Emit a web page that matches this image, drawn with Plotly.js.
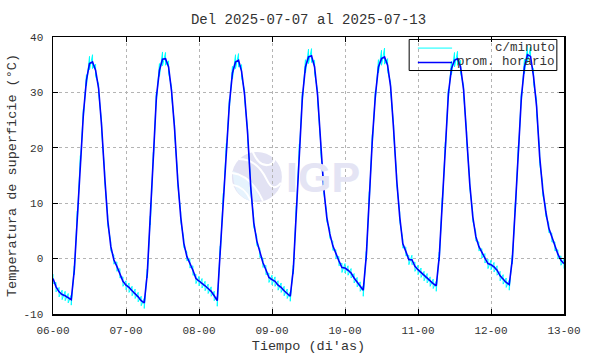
<!DOCTYPE html>
<html><head><meta charset="utf-8">
<script src="https://cdn.plot.ly/plotly-3.0.1.min.js"></script>
<style>html,body{margin:0;padding:0;background:#fff}#chart{width:590px;height:354px}</style>
</head><body><div id="chart"></div>
<script>
// Days shown (hourly points, 00..23 each day)
const days = ['2025-07-06','2025-07-07','2025-07-08','2025-07-09','2025-07-10','2025-07-11','2025-07-12'];
const endTime = '2025-07-13 00:00';

// Hourly mean surface temperature (°C), "prom. horario"
const mean06 = [-3.6,-5.1,-6.0,-6.5,-6.7,-7.1,-7.4,-2.1,7.8,17.8,26.2,32.2,35.2,35.5,34.0,30.7,23.8,14.8,6.9,2.2,-0.2,-1.4,-2.6,-4.1];
const mean07 = [-4.8,-5.2,-5.8,-6.3,-6.9,-7.6,-8.0,-2.7,6.9,18.4,29.2,34.0,36.0,36.1,34.6,30.1,23.2,14.2,7.5,2.8,0.4,-0.8,-2.1,-3.6];
const mean08 = [-4.0,-4.4,-4.9,-5.4,-5.9,-6.7,-7.6,1.5,11.0,20.0,28.0,33.5,35.5,35.8,33.8,29.5,22.5,13.0,6.5,3.2,1.0,-0.7,-2.0,-3.4];
const mean09 = [-3.8,-4.1,-4.8,-5.2,-5.8,-6.3,-6.8,-2.0,8.8,19.9,29.2,34.6,36.4,36.6,34.6,29.4,20.1,12.7,7.5,4.5,2.3,0.8,-0.4,-1.6];
const mean10 = [-1.7,-2.1,-2.6,-3.5,-4.2,-5.0,-5.7,0.5,11.3,21.6,29.5,34.6,36.1,36.4,34.9,31.0,23.2,14.2,7.5,2.7,1.3,-0.2,-0.2,-1.4];
const mean11 = [-2.0,-2.5,-3.1,-3.5,-4.1,-4.5,-4.9,0.4,10.2,20.2,29.8,34.3,35.8,36.1,34.6,30.4,22.0,13.6,7.6,4.0,2.2,1.0,0.1,-0.9];
const mean12 = [-1.1,-1.5,-2.1,-3.1,-3.7,-4.3,-4.7,-0.2,9.3,19.6,29.2,34.6,36.8,36.5,32.8,27.4,18.4,12.5,8.5,5.5,3.8,2.2,0.8,-0.3];
const meanEnd = -0.9;

// Per-minute readings "c/minuto": highest and lowest reading seen in each hour (°C)
const hi06 = [-2.8,-4.3,-5.2,-5.7,-5.9,-6.3,-6.6,-1.3,8.6,18.6,27.0,33.2,36.5,36.8,35.1,31.5,24.6,15.6,7.7,3.0,0.6,-0.6,-1.8,-3.3];
const lo06 = [-4.5,-6.0,-6.9,-7.4,-7.6,-8.0,-8.4,-2.9,7.0,17.0,25.4,31.2,34.1,34.3,32.9,29.9,23.0,14.0,6.1,1.4,-1.0,-2.3,-3.5,-5.0];
const hi07 = [-4.0,-4.4,-5.0,-5.5,-6.1,-6.8,-7.2,-1.9,7.7,19.2,30.0,35.2,37.3,37.2,35.7,30.9,24.0,15.0,8.3,3.6,1.2,0.0,-1.3,-2.8];
const lo07 = [-5.6,-6.1,-6.7,-7.2,-7.8,-8.5,-9.0,-3.5,6.1,17.6,28.4,32.9,34.8,34.9,33.5,29.3,22.4,13.4,6.7,2.0,-0.4,-1.7,-3.0,-4.5];
const hi08 = [-3.2,-3.6,-4.1,-4.6,-5.1,-5.9,-6.8,2.3,11.8,20.8,28.8,34.7,36.8,37.0,35.0,30.3,23.3,13.8,7.3,4.0,1.8,0.1,-1.2,-2.6];
const lo08 = [-4.9,-5.3,-5.8,-6.3,-6.8,-7.6,-8.6,0.7,10.2,19.2,27.2,32.4,34.3,34.6,32.7,28.7,21.7,12.2,5.7,2.4,0.2,-1.6,-2.9,-4.3];
const hi09 = [-3.0,-3.3,-4.0,-4.4,-5.0,-5.5,-6.0,-1.2,9.6,20.7,30.0,35.9,37.8,37.9,35.8,30.2,20.9,13.5,8.3,5.3,3.1,1.6,0.4,-0.8];
const lo09 = [-4.7,-5.0,-5.7,-6.1,-6.7,-7.2,-7.7,-2.8,8.0,19.1,28.4,33.5,35.2,35.4,33.5,28.6,19.3,11.9,6.7,3.7,1.5,0.0,-1.3,-2.5];
const hi10 = [-0.9,-1.3,-1.8,-2.7,-3.4,-4.2,-4.9,1.3,12.1,22.4,30.3,35.9,37.6,38.0,36.1,31.8,24.0,15.0,8.3,3.5,2.1,0.6,0.6,-0.6];
const lo10 = [-2.6,-3.0,-3.5,-4.4,-5.1,-5.9,-6.8,-0.3,10.5,20.8,28.7,33.5,34.9,35.1,33.8,30.2,22.4,13.4,6.7,1.9,0.5,-1.1,-1.1,-2.3];
const hi11 = [-1.2,-1.7,-2.3,-2.7,-3.3,-3.7,-4.1,1.2,11.0,21.0,30.6,35.6,37.2,37.4,35.8,31.2,22.8,14.4,8.4,4.8,3.0,1.8,0.9,-0.1];
const lo11 = [-2.9,-3.4,-4.0,-4.4,-5.0,-5.4,-5.9,-0.4,9.4,19.4,29.0,33.2,34.6,34.9,33.5,29.6,21.2,12.8,6.8,3.2,1.4,0.1,-0.8,-1.8];
const hi12 = [-0.3,-0.7,-1.3,-2.3,-2.9,-3.5,-3.9,0.6,10.1,20.4,30.0,36.0,38.4,38.2,34.2,28.6,19.6,13.5,9.3,6.3,4.6,3.0,1.6,0.5];
const lo12 = [-2.0,-2.4,-3.0,-4.0,-4.6,-5.2,-5.7,-1.0,8.5,18.8,28.4,33.4,35.4,35.2,31.6,26.2,17.2,11.5,7.7,4.7,3.0,1.4,0.0,-1.2];
const hiEnd = -0.1, loEnd = -1.8;

const yTicks = [-10, 0, 10, 20, 30, 40];
const seriesNames = ['c/minuto', 'prom. horario'];
const seriesColors = ['#00ffff', '#0000ff'];

const means = [mean06, mean07, mean08, mean09, mean10, mean11, mean12];
const his = [hi06, hi07, hi08, hi09, hi10, hi11, hi12];
const los = [lo06, lo07, lo08, lo09, lo10, lo11, lo12];

const pad = n => (n < 10 ? '0' : '') + n;
const xMean = [], yMean = [], xMin = [], yMin = [];
days.forEach((d, i) => {
  for (let h = 0; h < 24; h++) {
    const t = d + ' ' + pad(h) + ':00';
    xMean.push(t); yMean.push(means[i][h]);
    xMin.push(t, t); yMin.push(his[i][h], los[i][h]);
  }
});
xMean.push(endTime); yMean.push(meanEnd);
xMin.push(endTime, endTime); yMin.push(hiEnd, loEnd);

const MONO = 'Liberation Mono, Courier New, monospace';
const TXT = '#333333';

const traces = [
  {x: xMin, y: yMin, type: 'scatter', mode: 'lines', name: seriesNames[0], showlegend: false,
   line: {color: seriesColors[0], width: 1}, hoverinfo: 'skip'},
  {x: xMean, y: yMean, type: 'scatter', mode: 'lines', name: seriesNames[1], showlegend: false,
   line: {color: seriesColors[1], width: 1.6}}
];

const axisCommon = {
  showline: true, linecolor: '#000', linewidth: 1.5, mirror: 'ticks',
  ticks: 'inside', ticklen: 5, tickwidth: 1, tickcolor: '#000',
  showgrid: true, gridcolor: '#b4b4b4', griddash: 'dot', gridwidth: 1,
  zeroline: false,
  tickfont: {family: MONO, size: 11, color: TXT}
};

// Key (gnuplot-style: sample line on the left, text right-justified), paper coordinates
const keyRowY = [0.960, 0.908];
const keyShapes = [
  {type: 'rect', xref: 'paper', yref: 'paper', x0: 0.697, x1: 0.986, y0: 0.879, y1: 0.991,
   line: {color: '#000', width: 1}, fillcolor: 'rgba(0,0,0,0)', layer: 'above'}
].concat(seriesNames.map((n, i) => ({
  type: 'line', xref: 'paper', yref: 'paper', x0: 0.714, x1: 0.781, y0: keyRowY[i], y1: keyRowY[i],
  line: {color: seriesColors[i], width: i === 0 ? 1 : 1.6}, layer: 'above'
})));
const keyAnn = seriesNames.map((n, i) => ({
  text: n, xref: 'paper', yref: 'paper', x: 0.984, y: keyRowY[i],
  xanchor: 'right', yanchor: 'middle', showarrow: false, borderpad: 0,
  font: {family: MONO, size: 12.5, color: TXT}
}));

const layout = {
  width: 590, height: 354,
  margin: {l: 53, r: 26, t: 37, b: 40},
  paper_bgcolor: '#fff', plot_bgcolor: '#fff',
  showlegend: false,
  title: {text: 'Del 2025-07-07 al 2025-07-13', font: {family: MONO, size: 14, color: TXT},
          x: 0.5, xref: 'paper', xanchor: 'center', y: 1 - 19/354, yref: 'container', yanchor: 'middle'},
  xaxis: Object.assign({}, axisCommon, {
    type: 'date', range: [days[0] + ' 00:00', endTime],
    dtick: 86400000, tick0: days[0], tickformat: '%d-%H',
    ticklabelstandoff: 5,
    title: {text: "Tiempo (di'as)", font: {family: MONO, size: 13.5, color: TXT}, standoff: 7}
  }),
  yaxis: Object.assign({}, axisCommon, {
    range: [-10, 40], tickvals: yTicks, ticktext: yTicks.map(String),
    ticklabelstandoff: 6,
    title: {text: 'Temperatura de superficie (°C)', font: {family: MONO, size: 13.5, color: TXT}, standoff: 4}
  }),
  shapes: [
    {type: 'circle', xref: 'paper', yref: 'paper', xsizemode: 'pixel', ysizemode: 'pixel',
     xanchor: 0.399, yanchor: 0.495, x0: -25, x1: 25, y0: -25, y1: 25,
     fillcolor: '#e2e2f3', line: {width: 0}, layer: 'below'},
    {type: 'path', xref: 'paper', yref: 'paper', xsizemode: 'pixel', ysizemode: 'pixel',
     xanchor: 0.399, yanchor: 0.495,
     path: 'M -24 6 Q -8 2 4 -23 L -6 -24 Q -14 -22 -20 -14 Q -24 -6 -24 6 Z',
     fillcolor: '#e6f3fd', line: {width: 0}, layer: 'below'},
    {type: 'path', xref: 'paper', yref: 'paper', xsizemode: 'pixel', ysizemode: 'pixel',
     xanchor: 0.399, yanchor: 0.495,
     path: 'M -25 4 Q -6 2 6 -24', fillcolor: 'rgba(0,0,0,0)', line: {color: '#ffffff', width: 2}, layer: 'below'},
    {type: 'path', xref: 'paper', yref: 'paper', xsizemode: 'pixel', ysizemode: 'pixel',
     xanchor: 0.399, yanchor: 0.495,
     path: 'M -24 -8 Q -12 -10 -6 -24', fillcolor: 'rgba(0,0,0,0)', line: {color: '#ffffff', width: 2}, layer: 'below'},
    {type: 'path', xref: 'paper', yref: 'paper', xsizemode: 'pixel', ysizemode: 'pixel',
     xanchor: 0.399, yanchor: 0.495,
     path: 'M -18 18 Q 0 18 10 -3 Q 16 -16 24 -6', fillcolor: 'rgba(0,0,0,0)', line: {color: '#ffffff', width: 2}, layer: 'below'},
    {type: 'path', xref: 'paper', yref: 'paper', xsizemode: 'pixel', ysizemode: 'pixel',
     xanchor: 0.399, yanchor: 0.495,
     path: 'M -4 25 Q 2 10 12 12 Q 20 14 16 22', fillcolor: 'rgba(0,0,0,0)', line: {color: '#ffffff', width: 2}, layer: 'below'}
  ].concat(keyShapes),
  annotations: [
    {text: '<b>IGP</b>', xref: 'paper', yref: 'paper', x: 0.528, y: 0.495, xanchor: 'center', yanchor: 'middle',
     showarrow: false, font: {family: 'Liberation Sans, Arial, sans-serif', size: 43, color: '#e4e4f4'}}
  ].concat(keyAnn)
};

Plotly.newPlot('chart', traces, layout, {displayModeBar: false, staticPlot: true});
</script>
</body></html>
